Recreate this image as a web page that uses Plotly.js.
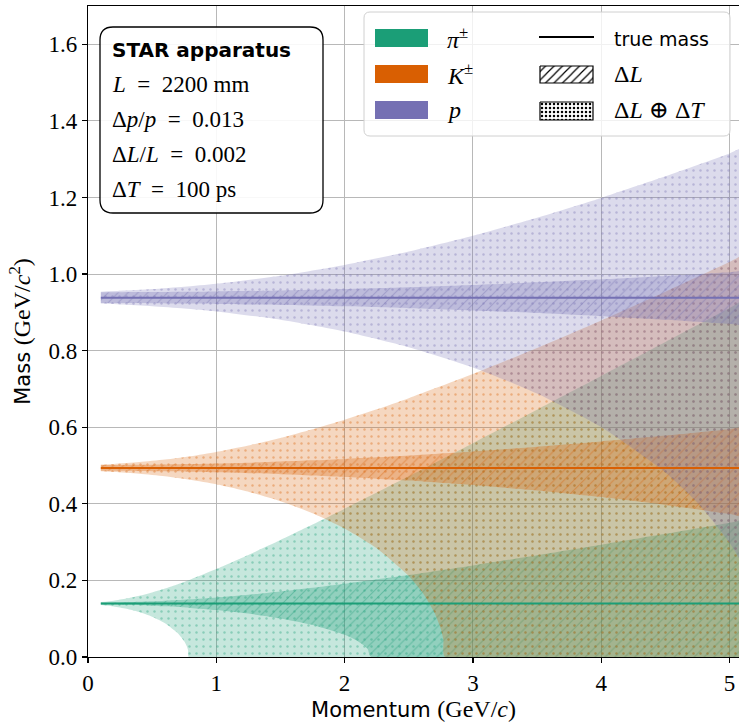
<!DOCTYPE html>
<html>
<head>
<meta charset="utf-8">
<script src="https://cdn.plot.ly/plotly-3.0.1.min.js"></script>
<style>
  html, body { margin: 0; padding: 0; background: #ffffff; }
  #chart { width: 739px; height: 723px; }
</style>
</head>
<body>
<div id="chart"></div>
<script>
// Reconstructed mass vs momentum for the STAR time-of-flight setup.
// Upper/lower edges of each band are listed per species (GeV/c^2).

// ---- pions ----
const pionP     = [0.1, 0.2, 0.3, 0.4, 0.5, 0.6, 0.7, 0.8, 1.0, 1.25, 1.5, 1.75, 2.0, 2.5, 3.0, 3.5, 4.0, 4.5, 5.0, 5.5];
const pionTotHi = [0.1435, 0.1470, 0.1525, 0.1598, 0.1686, 0.1789, 0.1903, 0.2027, 0.2296, 0.2664, 0.3053, 0.3457, 0.3872, 0.4720, 0.5584, 0.6459, 0.7339, 0.8223, 0.9111, 1.0000];
const pionLenHi = [0.1418, 0.1423, 0.1430, 0.1440, 0.1453, 0.1468, 0.1486, 0.1507, 0.1555, 0.1628, 0.1713, 0.1808, 0.1912, 0.2140, 0.2390, 0.2656, 0.2932, 0.3216, 0.3507, 0.3803];
const pionLenLoP = [0.1, 0.2, 0.3, 0.4, 0.5, 0.6, 0.7, 0.8, 1.0, 1.25, 1.5, 1.75, 2.0, 2.1, 2.15, 2.18, 2.206, 5.5];
const pionLenLo  = [0.1373, 0.1369, 0.1362, 0.1352, 0.1339, 0.1323, 0.1303, 0.1281, 0.1225, 0.1133, 0.1008, 0.0837, 0.0580, 0.0421, 0.0308, 0.0208, 0, 0];
const pionTotLoP = [0.1, 0.2, 0.3, 0.4, 0.5, 0.6, 0.7, 0.75, 0.77, 0.78, 0.786, 5.5];
const pionTotLo  = [0.1357, 0.1322, 0.1263, 0.1176, 0.1054, 0.0883, 0.0622, 0.0411, 0.0278, 0.0174, 0, 0];

// ---- kaons ----
const kaonP     = [0.1, 0.2, 0.4, 0.6, 0.8, 1.0, 1.25, 1.5, 1.75, 2.0, 2.25, 2.5, 3.0, 3.5, 4.0, 4.5, 5.0, 5.5];
const kaonTotHi = [0.5026, 0.5043, 0.5089, 0.5155, 0.5244, 0.5355, 0.5523, 0.5721, 0.5947, 0.6197, 0.6469, 0.6760, 0.7389, 0.8070, 0.8790, 0.9541, 1.0316, 1.1110];
const kaonLenHi = [0.5011, 0.5013, 0.5018, 0.5026, 0.5037, 0.5052, 0.5075, 0.5103, 0.5135, 0.5173, 0.5215, 0.5262, 0.5368, 0.5491, 0.5630, 0.5783, 0.5950, 0.6129];
const kaonLenLo = [0.4863, 0.4861, 0.4857, 0.4849, 0.4837, 0.4823, 0.4800, 0.4772, 0.4739, 0.4701, 0.4656, 0.4607, 0.4489, 0.4346, 0.4175, 0.3972, 0.3733, 0.3449];
const kaonTotLoP = [0.1, 0.2, 0.4, 0.6, 0.8, 1.0, 1.25, 1.5, 1.75, 2.0, 2.25, 2.5, 2.6, 2.7, 2.75, 2.77, 2.782, 5.5];
const kaonTotLo  = [0.4849, 0.4832, 0.4787, 0.4720, 0.4628, 0.4509, 0.4316, 0.4068, 0.3755, 0.3357, 0.2840, 0.2118, 0.1717, 0.1162, 0.0728, 0.0441, 0, 0];

// ---- protons ----
const protonP     = [0.1, 0.25, 0.5, 0.75, 1.0, 1.5, 2.0, 2.5, 3.0, 3.5, 4.0, 4.5, 5.0, 5.5];
const protonTotHi = [0.9538, 0.9561, 0.9607, 0.9668, 0.9746, 0.9956, 1.0239, 1.0590, 1.1003, 1.1472, 1.1989, 1.2551, 1.3149, 1.3781];
const protonLenHi = [0.9524, 0.9525, 0.9529, 0.9536, 0.9545, 0.9572, 0.9610, 0.9658, 0.9716, 0.9785, 0.9864, 0.9952, 1.0050, 1.0157];
const protonLenLo = [0.9242, 0.9241, 0.9237, 0.9230, 0.9221, 0.9195, 0.9158, 0.9110, 0.9051, 0.8981, 0.8900, 0.8807, 0.8701, 0.8593];
const protonTotLoP = [0.1, 0.25, 0.5, 0.75, 1.0, 1.5, 2.0, 2.5, 3.0, 3.5, 4.0, 4.5, 4.75, 5.0, 5.1, 5.2, 5.287, 5.5];
const protonTotLo  = [0.9229, 0.9206, 0.9161, 0.9101, 0.9024, 0.8807, 0.8500, 0.8090, 0.7560, 0.6881, 0.6003, 0.4818, 0.4030, 0.2982, 0.2419, 0.1655, 0, 0];

// true masses (GeV/c^2) and the momentum span of the reference lines
const speciesNames = ['π±', 'K±', 'p'];
const trueMass     = [0.1396, 0.4937, 0.9383];
const lineP        = [0.1, 5.5];

const xTicks = [0, 1, 2, 3, 4, 5];
const yTicks = [0, 0.2, 0.4, 0.6, 0.8, 1.0, 1.2, 1.4, 1.6];

const rgb = [[27, 158, 119], [217, 95, 2], [117, 112, 179]];
const rgba = (c, a) => `rgba(${c[0]},${c[1]},${c[2]},${a})`;
const SERIF = 'Liberation Serif, DejaVu Serif, serif';
const SANS = 'DejaVu Sans, sans-serif';

// plotting-area geometry (pixels) and axis ranges
const PX0 = 88, PX1 = 739, PY0 = 6, PY1 = 657;
const XMAX = 5.074, YMAX = 1.7;
// helpers placing the key and info box by pixel position inside the plotting area
const gx = px => (px - PX0) / (PX1 - PX0) * XMAX;
const gy = py => (PY1 - py) / (PY1 - PY0) * YMAX;

// closed polygon: upper edge left->right, lower edge right->left
function polygon(pHi, hi, pLo, lo) {
  return {
    x: pHi.concat(pLo.slice().reverse()),
    y: hi.concat(lo.slice().reverse())
  };
}

const bands = [
  { c: rgb[0], tot: polygon(pionP, pionTotHi, pionTotLoP, pionTotLo), len: polygon(pionP, pionLenHi, pionLenLoP, pionLenLo) },
  { c: rgb[1], tot: polygon(kaonP, kaonTotHi, kaonTotLoP, kaonTotLo), len: polygon(kaonP, kaonLenHi, kaonP, kaonLenLo) },
  { c: rgb[2], tot: polygon(protonP, protonTotHi, protonTotLoP, protonTotLo), len: polygon(protonP, protonLenHi, protonP, protonLenLo) }
];

const traces = [];
bands.forEach(b => {
  traces.push({
    type: 'scatter', mode: 'lines', x: b.tot.x, y: b.tot.y,
    fill: 'toself', fillcolor: rgba(b.c, 0.25),
    fillpattern: { shape: '.', size: 7, solidity: 0.1, bgcolor: rgba(b.c, 0.25), fgcolor: rgba(b.c, 0.36) },
    line: { width: 0, shape: 'spline', smoothing: 0.6 },
    hoverinfo: 'skip', showlegend: false
  });
  traces.push({
    type: 'scatter', mode: 'lines', x: b.len.x, y: b.len.y,
    fill: 'toself', fillcolor: rgba(b.c, 0.3),
    fillpattern: { shape: '/', size: 7, solidity: 0.15, bgcolor: rgba(b.c, 0.3), fgcolor: rgba(b.c, 0.4) },
    line: { width: 0, shape: 'spline', smoothing: 0.6 },
    hoverinfo: 'skip', showlegend: false
  });
});
trueMass.forEach((m, i) => {
  traces.push({
    type: 'scatter', mode: 'lines', x: lineP, y: [m, m],
    line: { color: rgba(rgb[i], 1), width: 2 },
    name: speciesNames[i], hoverinfo: 'skip', showlegend: false
  });
});

// key swatches for the two band styles
function swatch(x0, y0, x1, y1, shape, size, solidity) {
  return {
    type: 'scatter', mode: 'lines',
    x: [gx(x0), gx(x1), gx(x1), gx(x0), gx(x0)], y: [gy(y0), gy(y0), gy(y1), gy(y1), gy(y0)],
    fill: 'toself', fillcolor: 'white',
    fillpattern: { shape: shape, size: size, solidity: solidity, bgcolor: 'white', fgcolor: 'black' },
    line: { color: 'black', width: 1.2 }, hoverinfo: 'skip', showlegend: false
  };
}
traces.push(swatch(540, 66, 593, 83, '/', 6, 0.2));
traces.push(swatch(540, 102, 593, 120, '.', 4, 0.3));

function roundedRect(x0, y0, x1, y1, r) {
  const X0 = gx(x0), X1 = gx(x1), Y0 = gy(y0), Y1 = gy(y1);
  const rx = gx(PX0 + r), ry = gy(PY1 - r);
  return `M ${X0 + rx},${Y0} L ${X1 - rx},${Y0} Q ${X1},${Y0} ${X1},${Y0 - ry} ` +
         `L ${X1},${Y1 + ry} Q ${X1},${Y1} ${X1 - rx},${Y1} L ${X0 + rx},${Y1} ` +
         `Q ${X0},${Y1} ${X0},${Y1 + ry} L ${X0},${Y0 - ry} Q ${X0},${Y0} ${X0 + rx},${Y0} Z`;
}
function patch(x0, y0, x1, y1, color) {
  return { type: 'rect', xref: 'x', yref: 'y', layer: 'above',
           x0: gx(x0), x1: gx(x1), y0: gy(y0), y1: gy(y1), fillcolor: color, line: { width: 0 } };
}

const shapes = [
  { type: 'path', xref: 'x', yref: 'y', layer: 'between', path: roundedRect(364, 12, 730, 136, 6),
    fillcolor: 'rgba(255,255,255,0.8)', line: { color: '#d0d0d0', width: 1 } },
  { type: 'path', xref: 'x', yref: 'y', layer: 'between', path: roundedRect(100, 27, 323, 213, 13),
    fillcolor: 'rgba(255,255,255,0.9)', line: { color: 'black', width: 1.3 } },
  patch(375, 29, 428, 47, rgba(rgb[0], 1)),
  patch(375, 65, 428, 83, rgba(rgb[1], 1)),
  patch(375, 101, 428, 119, rgba(rgb[2], 1)),
  { type: 'line', xref: 'x', yref: 'y', layer: 'above', x0: gx(539), x1: gx(594), y0: gy(37), y1: gy(37),
    line: { color: 'black', width: 2 } }
];

function note(x, y, text, font) {
  return { xref: 'x', yref: 'y', x: gx(x), y: gy(y), text: text, showarrow: false,
           xanchor: 'left', yanchor: 'middle', font: Object.assign({ color: 'black' }, font) };
}
const SP = '\u2002';
const annotations = [
  note(445, 38, '<i>π</i><sup>±</sup>', { family: SERIF, size: 24 }),
  note(445, 74, '<i>K</i><sup>±</sup>', { family: SERIF, size: 24 }),
  note(445, 110, '<i>p</i>', { family: SERIF, size: 24 }),
  note(612, 39, 'true mass', { family: SANS, size: 19 }),
  note(612, 74, 'Δ<i>L</i>', { family: SERIF, size: 24 }),
  note(612, 110, 'Δ<i>L</i> ⊕ Δ<i>T</i>', { family: SERIF, size: 24 }),
  note(110, 50, '<b>STAR apparatus</b>', { family: SANS, size: 20 }),
  note(110, 84, '<i>L</i>' + SP + '=' + SP + '2200 mm', { family: SERIF, size: 23 }),
  note(110, 119, 'Δ<i>p</i>/<i>p</i>' + SP + '=' + SP + '0.013', { family: SERIF, size: 23 }),
  note(110, 154, 'Δ<i>L</i>/<i>L</i>' + SP + '=' + SP + '0.002', { family: SERIF, size: 23 }),
  note(110, 189, 'Δ<i>T</i>' + SP + '=' + SP + '100 ps', { family: SERIF, size: 23 })
];

const axisCommon = {
  ticks: 'outside', ticklen: 5, tickwidth: 1.2, tickcolor: 'black',
  showline: true, linecolor: 'black', linewidth: 1.2,
  showgrid: true, gridcolor: '#b8b8b8', gridwidth: 1, zeroline: false,
  tickfont: { family: SERIF, size: 23, color: 'black' }, automargin: false
};

const unitStyle = 'font-family:Liberation Serif;font-size:24px';
const layout = {
  width: 739, height: 723,
  margin: { l: PX0, r: 739 - PX1, t: PY0, b: 723 - PY1, pad: 0 },
  paper_bgcolor: 'white', plot_bgcolor: 'white',
  showlegend: false,
  xaxis: Object.assign({}, axisCommon, {
    range: [0, XMAX], tickvals: xTicks, ticktext: xTicks.map(String), mirror: true,
    title: { text: `Momentum <span style="${unitStyle}">(GeV/<i>c</i>)</span>`,
             font: { family: SANS, size: 21, color: 'black' }, standoff: 0 }
  }),
  yaxis: Object.assign({}, axisCommon, {
    range: [0, YMAX], tickvals: yTicks, ticktext: yTicks.map(v => v.toFixed(1)),
    title: { text: `Mass <span style="${unitStyle}">(GeV/<i>c</i><sup>2</sup>)</span>`,
             font: { family: SANS, size: 21, color: 'black' }, standoff: 12 }
  }),
  shapes: shapes,
  annotations: annotations
};

Plotly.newPlot('chart', traces, layout, { displayModeBar: false, staticPlot: true });
</script>
</body>
</html>
